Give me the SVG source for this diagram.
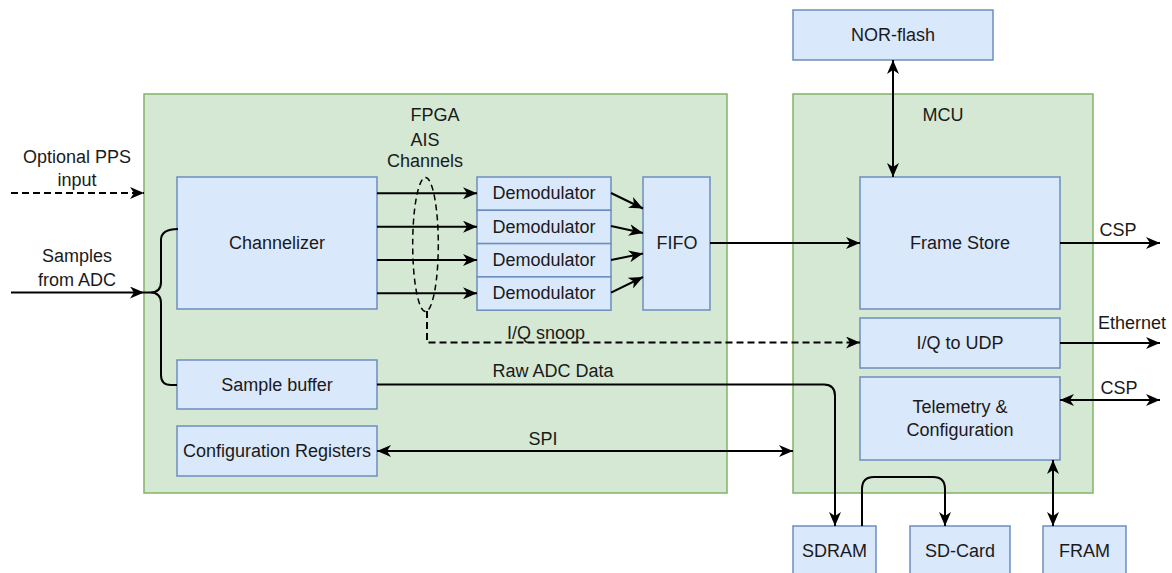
<svg xmlns="http://www.w3.org/2000/svg" width="1172" height="573" viewBox="0 0 1172 573">
<style>
text{font-family:"Liberation Sans",Arial,sans-serif;font-size:18px;fill:#1a1a1a;text-anchor:middle;dominant-baseline:central}
.grp{fill:#d5e8d4;stroke:#82b366;stroke-width:1.5}
.blk{fill:#dae8fc;stroke:#6c8ebf;stroke-width:1.5}
.ln{fill:none;stroke:#000;stroke-width:2}
.dash{stroke-dasharray:7 4}
</style>
<defs>
<marker id="arr" viewBox="0 0 14 12" markerWidth="14" markerHeight="12" refX="14" refY="6" orient="auto-start-reverse" markerUnits="userSpaceOnUse">
<path d="M0,0 L14,6 L0,12 L4,6 z" fill="#000"/>
</marker>
</defs>
<rect width="1172" height="573" fill="#fff"/>
<g id="fpga"><rect class="grp" x="144" y="94" width="583" height="399"/><text x="435" y="115">FPGA</text></g>
<g id="mcu"><rect class="grp" x="793" y="94" width="300" height="399"/><text x="943" y="115">MCU</text></g>
<g id="nor"><rect class="blk" x="793" y="10" width="200" height="50"/><text x="893" y="35">NOR-flash</text></g>
<g id="channelizer"><rect class="blk" x="177" y="177" width="200" height="132"/><text x="277" y="243">Channelizer</text></g>
<g id="demod1"><rect class="blk" x="477" y="177" width="134" height="33.3"/><text x="544" y="193.3">Demodulator</text></g>
<g id="demod2"><rect class="blk" x="477" y="210.3" width="134" height="33.3"/><text x="544" y="226.7">Demodulator</text></g>
<g id="demod3"><rect class="blk" x="477" y="243.6" width="134" height="33.3"/><text x="544" y="260">Demodulator</text></g>
<g id="demod4"><rect class="blk" x="477" y="276.9" width="134" height="33.3"/><text x="544" y="293.3">Demodulator</text></g>
<g id="fifo"><rect class="blk" x="643" y="177" width="67" height="133"/><text x="677" y="243">FIFO</text></g>
<g id="samplebuf"><rect class="blk" x="177" y="360" width="200" height="49"/><text x="277" y="385">Sample buffer</text></g>
<g id="cfgreg"><rect class="blk" x="177" y="426" width="200" height="50"/><text x="277" y="451">Configuration Registers</text></g>
<g id="framestore"><rect class="blk" x="860" y="177" width="200" height="132"/><text x="960" y="243">Frame Store</text></g>
<g id="iqudp"><rect class="blk" x="860" y="318" width="200" height="50"/><text x="960" y="343">I/Q to UDP</text></g>
<g id="telemetry"><rect class="blk" x="860" y="377" width="200" height="83"/><text x="960" y="407">Telemetry &amp;</text><text x="960" y="430">Configuration</text></g>
<g id="sdram"><rect class="blk" x="793" y="526" width="83" height="60"/><text x="834.5" y="551">SDRAM</text></g>
<g id="sdcard"><rect class="blk" x="910" y="526" width="100" height="60"/><text x="960" y="551">SD-Card</text></g>
<g id="fram"><rect class="blk" x="1043" y="526" width="83" height="60"/><text x="1084.5" y="551">FRAM</text></g>
<g id="aischannels"><ellipse cx="425.5" cy="244.5" rx="12.8" ry="67" fill="none" stroke="#000" stroke-width="1.5" stroke-dasharray="6 4"/><text x="425" y="140">AIS</text><text x="425" y="161">Channels</text></g>
<g id="connectors">
<path class="ln dash" d="M11,193 H144" marker-end="url(#arr)"/>
<text x="77" y="157">Optional PPS</text><text x="77" y="180">input</text>
<path class="ln" d="M11,292.5 H144" marker-end="url(#arr)"/>
<text x="77" y="256">Samples</text><text x="77" y="280">from ADC</text>
<path class="ln" d="M178,229 Q161,229 161,240 V282 Q161,292.5 150,292.5 H144 M150,292.5 Q161,292.5 161,303 V375 Q161,385 171,385 H177"/>
<path class="ln" d="M377,193.3 H477" marker-end="url(#arr)"/>
<path class="ln" d="M377,226.7 H477" marker-end="url(#arr)"/>
<path class="ln" d="M377,260 H477" marker-end="url(#arr)"/>
<path class="ln" d="M377,293.3 H477" marker-end="url(#arr)"/>
<path class="ln" d="M611,193 L643,208.5" marker-end="url(#arr)"/>
<path class="ln" d="M611,226 L643,233" marker-end="url(#arr)"/>
<path class="ln" d="M611,260 L643,253.5" marker-end="url(#arr)"/>
<path class="ln" d="M611,292.7 L643,277" marker-end="url(#arr)"/>
<path class="ln" d="M710,243 H860" marker-end="url(#arr)"/>
<path class="ln" d="M1060,243 H1160" marker-end="url(#arr)"/>
<text x="1118" y="230">CSP</text>
<path class="ln" d="M1060,343 H1160" marker-end="url(#arr)"/>
<text x="1132" y="323">Ethernet</text>
<path class="ln" d="M1060,400 H1160" marker-start="url(#arr)" marker-end="url(#arr)"/>
<text x="1119" y="388">CSP</text>
<path class="ln" d="M893,60 V177" marker-start="url(#arr)" marker-end="url(#arr)"/>
<path class="ln dash" d="M427,311 V342.5 H860" marker-end="url(#arr)"/>
<text x="546" y="333">I/Q snoop</text>
<path class="ln" d="M377,384.5 H824 Q835,384.5 835,396 V526" marker-end="url(#arr)"/>
<text x="553" y="371">Raw ADC Data</text>
<path class="ln" d="M377,451 H793" marker-start="url(#arr)" marker-end="url(#arr)"/>
<text x="543" y="439">SPI</text>
<path class="ln" d="M862,526 V489 Q862,477 874,477 H933 Q945,477 945,489 V526" marker-end="url(#arr)"/>
<path class="ln" d="M1053,460 V526" marker-start="url(#arr)" marker-end="url(#arr)"/>
</g>
</svg>
